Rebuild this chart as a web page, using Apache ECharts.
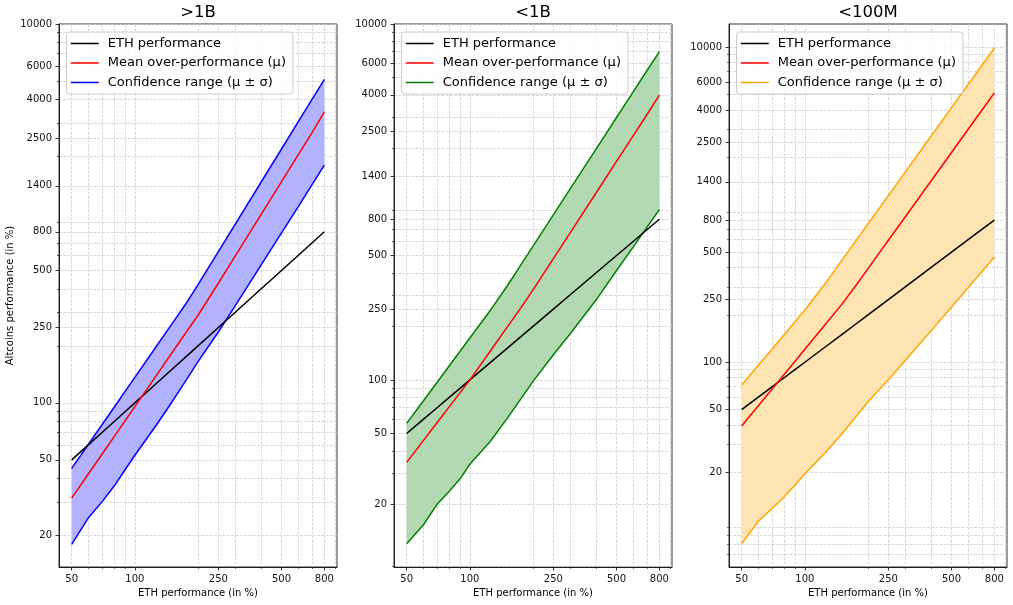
<!DOCTYPE html>
<html>
<head>
<meta charset="utf-8">
<script src="https://cdn.jsdelivr.net/npm/echarts@6/dist/echarts.min.js"></script>
<style>
html,body{margin:0;padding:0;background:#fff;}
#chart{width:1013px;height:605px;}
</style>
</head>
<body>
<div id="chart"></div>
<script>
// ---- data ----
const panelTitles = ['>1B', '<1B', '<100M'];
const ethX = [50, 60, 70, 80, 90, 100, 125, 150, 175, 200, 250, 300, 400, 500, 600, 700, 800];
const ethPerf = [50, 60, 70, 80, 90, 100, 125, 150, 175, 200, 250, 300, 400, 500, 600, 700, 800];

const p1Mean  = [31.4, 42.1, 53.9, 66.8, 80.7, 95.5, 136.8, 183.3, 234.6, 290, 428, 593, 989, 1472, 2037, 2680, 3440];
const p1Upper = [45.1, 60.3, 77.1, 95.4, 115.3, 136.4, 194.7, 260.5, 333.4, 421, 629, 873, 1465, 2188, 3042, 4011, 5100];
const p1Lower = [17.9, 24.7, 30.2, 36.6, 44.5, 52.9, 74.8, 100.8, 131, 165, 236.6, 323.8, 535, 790, 1084, 1425, 1801];

const p2Mean  = [34.4, 45.6, 57.8, 71.0, 85.1, 100, 145, 196.7, 254, 321, 481, 669, 1127, 1690, 2351, 3110, 3980];
const p2Upper = [57.0, 76.2, 97.4, 120.5, 145.4, 172, 245.4, 335, 443.6, 565, 847, 1180, 1989, 2983, 4154, 5495, 7003];
const p2Lower = [12.0, 15.3, 20.1, 23.8, 27.9, 33.6, 45.1, 60.4, 78.2, 98.1, 138.5, 181, 282, 412, 558, 725, 907];

const p3Mean  = [39.4, 52.9, 67.9, 84.3, 102, 120.9, 173.5, 233.1, 307, 393, 595, 834, 1421, 2149, 3015, 4011, 5140];
const p3Upper = [71.7, 95.7, 122, 150.8, 181.6, 214.5, 316, 443.6, 590.3, 756, 1144, 1605, 2736, 4139, 5803, 7725, 9897];
const p3Lower = [7.07, 9.77, 11.82, 14.06, 16.7, 19.6, 26.6, 35.0, 45.1, 56.1, 77.3, 102.1, 158.8, 223.9, 296.8, 378.5, 465];

const xTickLabels = [50, 100, 250, 500, 800];
const xMinorTicks = [60, 70, 80, 90, 200, 300, 400, 600, 700, 900];
const yTickLabels = [20, 50, 100, 250, 500, 800, 1400, 2500, 4000, 6000, 10000];
const yMinorTicks = [6, 7, 8, 9, 30, 40, 60, 70, 80, 90, 200, 300, 400, 600, 700, 900, 2000, 3000, 5000, 7000, 8000, 9000];

const seriesNames = ['ETH performance', 'Mean over-performance (μ)', 'Confidence range (μ ± σ)'];

// ---- layout / style ----
const FONT = 'DejaVu Sans';
const panels = [
  { left: 59,  width: 278, top: 24, height: 543, yMin: 13.6, yMax: 10000, mean: p1Mean, upper: p1Upper, lower: p1Lower, color: '#0000ff', fill: 'rgb(178,178,255)' },
  { left: 394, width: 278, top: 24, height: 543, yMin: 8.89, yMax: 10000, mean: p2Mean, upper: p2Upper, lower: p2Lower, color: '#008000', fill: 'rgb(179,217,179)' },
  { left: 729, width: 278, top: 24, height: 543, yMin: 5.01, yMax: 14060, mean: p3Mean, upper: p3Upper, lower: p3Lower, color: '#ffa500', fill: 'rgb(255,228,179)' }
];
const X_MIN = 43.5, X_MAX = 919;

const gridLine = { show: true, lineStyle: { color: '#cfcfcf', width: 0.8, type: [3, 1.3] } };
const inRange = (arr, lo, hi) => arr.filter(v => v >= lo * 0.9999 && v <= hi * 1.0001);

const grids = [], xAxes = [], yAxes = [], series = [], titles = [], legends = [];

panels.forEach((p, i) => {
  grids.push({ left: p.left, top: p.top, width: p.width, height: p.height, show: true,
    borderColor: '#000', borderWidth: 0.8, backgroundColor: 'transparent', containLabel: false, outerBoundsMode: 'none' });

  const xMaj = inRange(xTickLabels, X_MIN, X_MAX);
  const xMin = inRange(xMinorTicks, X_MIN, X_MAX);
  const yMaj = inRange(yTickLabels, p.yMin, p.yMax);
  const yMin = inRange(yMinorTicks, p.yMin, p.yMax);

  xAxes.push({
    type: 'log', logBase: 10, gridIndex: i, min: X_MIN, max: X_MAX, position: 'bottom',
    name: 'ETH performance (in %)', nameLocation: 'middle', nameGap: 21,
    nameTextStyle: { fontFamily: FONT, fontSize: 10, color: '#000' },
    axisLine: { show: true, onZero: false, lineStyle: { color: '#000', width: 0.8 } },
    axisTick: { show: true, customValues: xMaj, length: 3.5, lineStyle: { color: '#000', width: 0.8 } },
    axisLabel: { show: true, customValues: xMaj, margin: 7, fontFamily: FONT, fontSize: 10, color: '#111',
      formatter: v => String(Math.round(v)) },
    splitLine: gridLine, minorTick: { show: false }, minorSplitLine: { show: false }
  });
  xAxes.push({
    type: 'log', logBase: 10, gridIndex: i, min: X_MIN, max: X_MAX, position: 'bottom',
    axisLine: { show: false },
    axisTick: { show: true, customValues: xMin, length: 2, lineStyle: { color: '#000', width: 0.6 } },
    axisLabel: { show: false, customValues: xMin },
    splitLine: gridLine
  });

  yAxes.push({
    type: 'log', logBase: 10, gridIndex: i, min: p.yMin, max: p.yMax, position: 'left',
    name: i === 0 ? 'Altcoins performance (in %)' : '', nameLocation: 'middle', nameGap: 44,
    nameTextStyle: { fontFamily: FONT, fontSize: 10, color: '#000' },
    axisLine: { show: true, onZero: false, lineStyle: { color: '#000', width: 0.8 } },
    axisTick: { show: true, customValues: yMaj, length: 3.5, lineStyle: { color: '#000', width: 0.8 } },
    axisLabel: { show: true, customValues: yMaj, margin: 7, fontFamily: FONT, fontSize: 10, color: '#111',
      formatter: v => String(Math.round(v)) },
    splitLine: gridLine, minorTick: { show: false }, minorSplitLine: { show: false }
  });
  yAxes.push({
    type: 'log', logBase: 10, gridIndex: i, min: p.yMin, max: p.yMax, position: 'left',
    axisLine: { show: false },
    axisTick: { show: true, customValues: yMin, length: 2, lineStyle: { color: '#000', width: 0.6 } },
    axisLabel: { show: false, customValues: yMin },
    splitLine: gridLine
  });

  const xi = 2 * i, yi = 2 * i;
  const pairs = arr => ethX.map((x, k) => [x, arr[k]]);

  // filled confidence band (polygon between upper and lower, positioned via the axes)
  series.push({
    type: 'custom', name: 'band' + i, xAxisIndex: xi, yAxisIndex: yi, silent: true, z: 1,
    data: [[ethX[0], p.lower[0]]],
    clip: true,
    renderItem: (params, api) => {
      const pts = [];
      ethX.forEach((x, k) => pts.push(api.coord([x, p.upper[k]])));
      for (let k = ethX.length - 1; k >= 0; k--) pts.push(api.coord([ethX[k], p.lower[k]]));
      return { type: 'polygon', shape: { points: pts }, style: { fill: p.fill, stroke: null } };
    }
  });
  series.push({
    type: 'line', name: 'lower' + i, xAxisIndex: xi, yAxisIndex: yi,
    data: pairs(p.lower), symbol: 'none', lineStyle: { color: p.color, width: 1.5 }, itemStyle: { color: p.color },
    z: 2, silent: true
  });
  series.push({
    type: 'line', name: seriesNames[2], xAxisIndex: xi, yAxisIndex: yi,
    data: pairs(p.upper), symbol: 'none', lineStyle: { color: p.color, width: 1.5 }, itemStyle: { color: p.color },
    z: 2, silent: true
  });
  series.push({
    type: 'line', name: seriesNames[0], xAxisIndex: xi, yAxisIndex: yi,
    data: pairs(ethPerf), symbol: 'none', lineStyle: { color: '#000', width: 1.5 }, itemStyle: { color: '#000' }, z: 3
  });
  series.push({
    type: 'line', name: seriesNames[1], xAxisIndex: xi, yAxisIndex: yi,
    data: pairs(p.mean), symbol: 'none', lineStyle: { color: '#ff0000', width: 1.5 }, itemStyle: { color: '#ff0000' }, z: 3
  });

  titles.push({
    text: panelTitles[i], left: p.left + p.width / 2, top: 4, textAlign: 'center', padding: 0,
    textStyle: { fontFamily: FONT, fontSize: 16.5, fontWeight: 'normal', color: '#000' }
  });

  const hidden = { color: 'rgba(0,0,0,0)', opacity: 0, borderWidth: 0 };
  legends.push({
    orient: 'vertical', left: p.left + 7.5, top: 32, selectedMode: false,
    itemWidth: 28, itemHeight: 14, itemGap: 6.5,
    padding: [5, 7, 5, 3.5],
    backgroundColor: 'rgba(255,255,255,0.8)', borderColor: '#cccccc', borderWidth: 1, borderRadius: 3,
    textStyle: { fontFamily: FONT, fontSize: 13, color: '#000', padding: [0, 0, 0, 4] },
    data: [
      { name: seriesNames[0], itemStyle: hidden, lineStyle: { color: '#000', width: 1.5, opacity: 1 } },
      { name: seriesNames[1], itemStyle: hidden, lineStyle: { color: '#ff0000', width: 1.5, opacity: 1 } },
      { name: seriesNames[2], itemStyle: hidden, lineStyle: { color: p.color, width: 1.5, opacity: 1 } }
    ]
  });
});

const chart = echarts.init(document.getElementById('chart'), null, { renderer: 'canvas' });
chart.setOption({
  animation: false,
  backgroundColor: '#ffffff',
  title: titles,
  legend: legends,
  grid: grids,
  xAxis: xAxes,
  yAxis: yAxes,
  series: series
});
</script>
</body>
</html>
